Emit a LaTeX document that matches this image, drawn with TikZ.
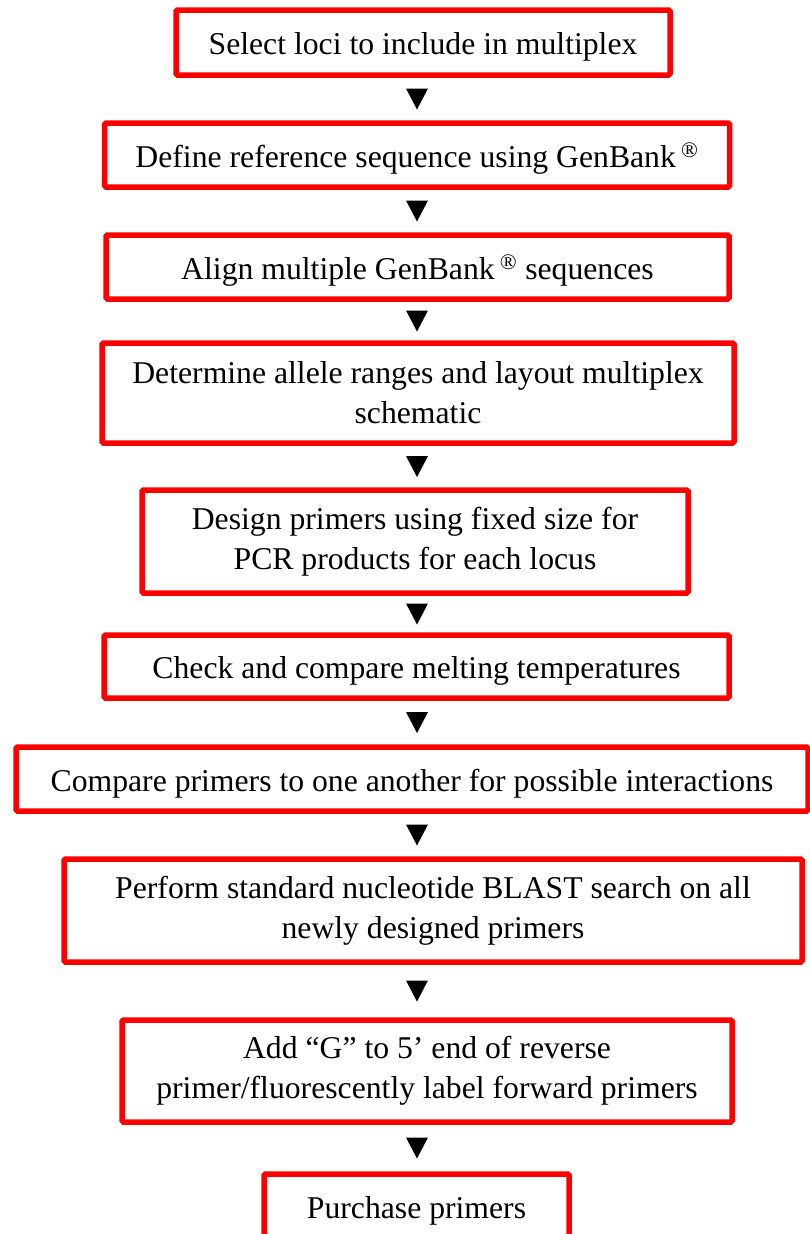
\documentclass[tikz,border=0pt]{standalone}
\usepackage{fontspec}
\setmainfont{Liberation Serif}
\usetikzlibrary{calc}

\tikzset{
  stepbox/.style={draw=red,line width=5.5pt,rounded corners=1.5pt,align=center,
    inner sep=0pt,font=\fontsize{31.7}{40}\selectfont},
  oneline/.style={text height=31pt,text depth=7pt},
}

\begin{document}
\begin{tikzpicture}[x=1pt,y=-1pt]
		\useasboundingbox (0,0) rectangle (809,1234);
		\coordinate (mid) at (417,0);
		% the steps
		\node[stepbox,oneline,minimum width=494,minimum height=65] (sel) at (423,42.5)
			{Select loci to include in multiplex};
		\node[stepbox,oneline,minimum width=625,minimum height=64] (ref) at (417,155)
			{Define reference sequence using GenBank\,\textsuperscript{\textregistered}};
		\node[stepbox,oneline,minimum width=623,minimum height=64] (aln) at (417.5,267)
			{Align multiple GenBank\,\textsuperscript{\textregistered} sequences};
		\node[stepbox,minimum width=632,minimum height=100] (rng) at (418,393)
			{Determine allele ranges and layout multiplex\\schematic};
		\node[stepbox,minimum width=546,minimum height=103] (dsg) at (415,541.5)
			{Design primers using fixed size for\\PCR products for each locus};
		\node[stepbox,oneline,minimum width=625,minimum height=63] (chk) at (416.5,666.5)
			{Check and compare melting temperatures};
		\node[stepbox,oneline,minimum width=792,minimum height=64] (cmp) at (412,779)
			{Compare primers to one another for possible interactions};
		\node[stepbox,minimum width=738,minimum height=103] (blast) at (433,910.5)
			{Perform standard nucleotide BLAST search on all\\newly designed primers};
		\node[stepbox,minimum width=610,minimum height=102] (addg) at (427,1071)
			{Add “G” to 5’ end of reverse\\primer/fluorescently label forward primers};
		\node[stepbox,oneline,minimum width=305,minimum height=64] (buy) at (416.5,1206)
			{Purchase primers};
		% down triangles between the steps
		\foreach \a/\b in {sel/ref,ref/aln,aln/rng,rng/dsg,dsg/chk,chk/cmp,cmp/blast,blast/addg,addg/buy}{
			\coordinate (m) at ($(\a.south)!0.5!(\b.north)$);
			\fill[black] (m -| mid) +(-11,-10.5) -- +(11,-10.5) -- +(0,10.5) -- cycle;
		}
\end{tikzpicture}
\end{document}
